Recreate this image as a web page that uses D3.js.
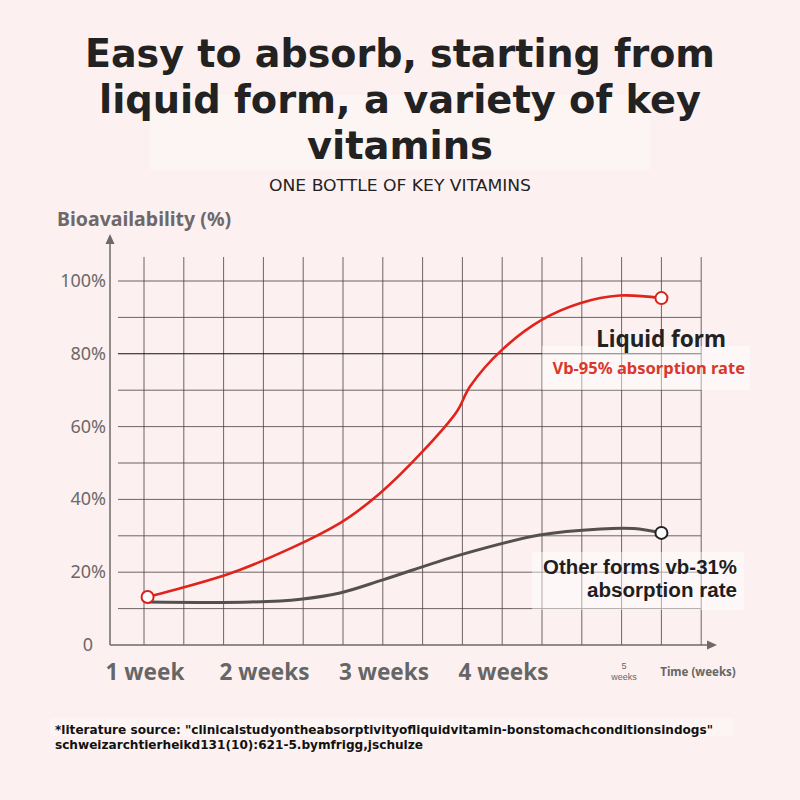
<!DOCTYPE html>
<html>
<head>
<meta charset="utf-8">
<script src="https://cdn.jsdelivr.net/npm/d3@7"></script>
<style>
  body { margin: 0; background: #fcf1f0; }
  svg { display: block; font-family: "Noto Sans", "Open Sans", sans-serif; }
</style>
</head>
<body>
<svg id="chart" width="800" height="800"></svg>
<script>
// data
const yTicks = [0, 20, 40, 60, 80, 100];
const weekLabels = ["1 week", "2 weeks", "3 weeks", "4 weeks"];
const weekPositions = [1, 2, 3, 4];

const liquidWeeks = [1.03, 1.25, 1.8, 2.64, 2.975, 3.318, 3.617, 3.728, 3.993, 4.328, 4.649, 4.98, 5.33];
const liquidValues = [13.2, 15.1, 20.6, 33.5, 41.7, 52.7, 64.1, 71.0, 81.0, 89.3, 93.9, 96.0, 95.3];

const otherWeeks = [1.03, 1.89, 2.31, 2.64, 3.0, 3.64, 4.31, 4.82, 5.1, 5.33];
const otherValues = [11.8, 11.8, 12.6, 14.3, 17.9, 24.7, 30.2, 31.9, 32.0, 30.8];

const liquid = liquidWeeks.map((w, i) => ({ w: w, v: liquidValues[i] }));
const other = otherWeeks.map((w, i) => ({ w: w, v: otherValues[i] }));

const svg = d3.select("#chart");
const condensed = '"DejaVu Sans Condensed", "DejaVu Sans", sans-serif';
const tight = '"Liberation Sans", Arial, sans-serif';

// scales
const x = d3.scaleLinear().domain([1, 5]).range([144, 622]);
const y = d3.scaleLinear().domain([0, 100]).range([645, 281]);

// title
svg.append("rect")
  .attr("x", 150).attr("y", 95).attr("width", 500).attr("height", 75)
  .attr("fill", "#fdf5f4");

const title = ["Easy to absorb, starting from", "liquid form, a variety of key", "vitamins"];
const titleWidths = [630, 602, 186];
svg.append("text")
  .attr("text-anchor", "middle")
  .attr("font-family", condensed)
  .attr("font-stretch", "condensed")
  .attr("font-size", 39.5)
  .attr("font-weight", 700)
  .attr("fill", "#222")
  .selectAll("tspan")
  .data(title)
  .join("tspan")
  .attr("x", 400)
  .attr("y", (d, i) => 67 + i * 46)
  .attr("textLength", (d, i) => titleWidths[i])
  .attr("lengthAdjust", "spacingAndGlyphs")
  .text((d) => d);

svg.append("text")
  .attr("x", 400).attr("y", 191)
  .attr("text-anchor", "middle")
  .attr("font-family", condensed)
  .attr("font-stretch", "condensed")
  .attr("font-size", 15)
  .attr("fill", "#222")
  .attr("textLength", 262).attr("lengthAdjust", "spacingAndGlyphs")
  .text("ONE BOTTLE OF KEY VITAMINS");

// grid
const gridX = d3.range(0, 15).map((i) => 144 + i * 39.8);
const gridY = d3.range(10, 101, 10);

svg.append("g")
  .selectAll("line")
  .data(gridX)
  .join("line")
  .attr("x1", (d) => d).attr("x2", (d) => d)
  .attr("y1", 257).attr("y2", y(0))
  .attr("stroke", "#4a4042").attr("stroke-width", 0.8);

svg.append("g")
  .selectAll("line")
  .data(gridY)
  .join("line")
  .attr("x1", 118).attr("x2", 701)
  .attr("y1", (d) => y(d)).attr("y2", (d) => y(d))
  .attr("stroke", (d) => (d === 80 ? "#111" : "#4a4042"))
  .attr("stroke-width", (d) => (d === 80 ? 1.1 : 0.8));

// label backgrounds
svg.append("rect")
  .attr("x", 542).attr("y", 346).attr("width", 208).attr("height", 44)
  .attr("fill", "#fff").attr("opacity", 0.45);
svg.append("rect")
  .attr("x", 532).attr("y", 552).attr("width", 212).attr("height", 58)
  .attr("fill", "#fff").attr("opacity", 0.45);

// axes
const axisColor = "#6e6869";
svg.append("line")
  .attr("x1", 110).attr("x2", 110).attr("y1", y(0)).attr("y2", 242)
  .attr("stroke", axisColor).attr("stroke-width", 1.5);
svg.append("path")
  .attr("d", "M110,234 L105.5,244 L114.5,244 Z")
  .attr("fill", axisColor);
svg.append("line")
  .attr("x1", 110).attr("x2", 708).attr("y1", y(0)).attr("y2", y(0))
  .attr("stroke", axisColor).attr("stroke-width", 1.5);
svg.append("path")
  .attr("d", `M717,${y(0)} L707,${y(0) - 4.5} L707,${y(0) + 4.5} Z`)
  .attr("fill", axisColor);

// y tick labels
svg.append("g")
  .selectAll("text")
  .data(yTicks)
  .join("text")
  .attr("x", (d) => (d === 0 ? 93 : 106))
  .attr("y", (d) => y(d) + 6)
  .attr("text-anchor", "end")
  .attr("font-size", 18)
  .attr("fill", "#6e6869")
  .text((d) => (d === 0 ? "0" : d + "%"));

svg.append("text")
  .attr("x", 57).attr("y", 226)
  .attr("font-size", 19.5).attr("font-weight", 700)
  .attr("fill", "#6e6869")
  .text("Bioavailability (%)");

// x labels
svg.append("g")
  .selectAll("text")
  .data(weekLabels)
  .join("text")
  .attr("x", (d, i) => x(weekPositions[i]) + 1)
  .attr("y", 680)
  .attr("text-anchor", "middle")
  .attr("font-size", 22.5).attr("font-weight", 700)
  .attr("fill", "#666")
  .text((d) => d);

svg.append("text")
  .attr("text-anchor", "middle")
  .attr("font-family", tight)
  .attr("font-size", 9).attr("fill", "#666")
  .selectAll("tspan")
  .data(["5", "weeks"])
  .join("tspan")
  .attr("x", x(5) + 2)
  .attr("y", (d, i) => 669 + i * 11)
  .text((d) => d);
svg.append("text")
  .attr("x", 698).attr("y", 676)
  .attr("text-anchor", "middle").attr("font-size", 11.5).attr("font-weight", 700)
  .attr("fill", "#666")
  .text("Time (weeks)");

// curves
const line = d3.line()
  .x((d) => x(d.w))
  .y((d) => y(d.v))
  .curve(d3.curveCatmullRom.alpha(0.5));

svg.append("path")
  .datum(other)
  .attr("d", line)
  .attr("fill", "none").attr("stroke", "#555050").attr("stroke-width", 3);

svg.append("path")
  .datum(liquid)
  .attr("d", line)
  .attr("fill", "none").attr("stroke", "#e0231b").attr("stroke-width", 2.6);

const ends = [
  { d: other[other.length - 1], c: "#222" },
  { d: liquid[0], c: "#d8231b" },
  { d: liquid[liquid.length - 1], c: "#d8231b" }
];
svg.append("g")
  .selectAll("circle")
  .data(ends)
  .join("circle")
  .attr("cx", (e) => x(e.d.w))
  .attr("cy", (e) => y(e.d.v))
  .attr("r", 6)
  .attr("fill", "#fff")
  .attr("stroke", (e) => e.c)
  .attr("stroke-width", 2);

// series labels
svg.append("text")
  .attr("x", 661).attr("y", 347)
  .attr("text-anchor", "middle")
  .attr("font-size", 22.5).attr("font-weight", 700)
  .attr("fill", "#222")
  .text("Liquid form");
svg.append("text")
  .attr("x", 745).attr("y", 374)
  .attr("text-anchor", "end")
  .attr("font-size", 16.5).attr("font-weight", 700)
  .attr("fill", "#d9382b")
  .text("Vb-95% absorption rate");

const otherLabel = ["Other forms vb-31%", "absorption rate"];
const otherLabelWidths = [194, 150];
svg.append("text")
  .attr("text-anchor", "end")
  .attr("font-family", tight)
  .attr("font-size", 19.5).attr("font-weight", 700)
  .attr("fill", "#1e1e1e")
  .selectAll("tspan")
  .data(otherLabel)
  .join("tspan")
  .attr("x", 737)
  .attr("y", (d, i) => 574 + i * 23)
  .attr("textLength", (d, i) => otherLabelWidths[i])
  .attr("lengthAdjust", "spacingAndGlyphs")
  .text((d) => d);

// footnote
svg.append("rect")
  .attr("x", 50).attr("y", 718).attr("width", 684).attr("height", 18)
  .attr("fill", "#fdf5f4");
const foot = [
  '*literature source: "clinicalstudyontheabsorptivityofliquidvitamin-bonstomachconditionsindogs"',
  "schweizarchtierheikd131(10):621-5.bymfrigg,jschulze"
];
const footWidths = [658, 368];
svg.append("text")
  .attr("font-family", condensed)
  .attr("font-stretch", "condensed")
  .attr("font-size", 12.8).attr("font-weight", 700)
  .attr("fill", "#111")
  .selectAll("tspan")
  .data(foot)
  .join("tspan")
  .attr("x", 55)
  .attr("y", (d, i) => 734 + i * 15)
  .attr("textLength", (d, i) => footWidths[i])
  .attr("lengthAdjust", "spacingAndGlyphs")
  .text((d) => d);
</script>
</body>
</html>
